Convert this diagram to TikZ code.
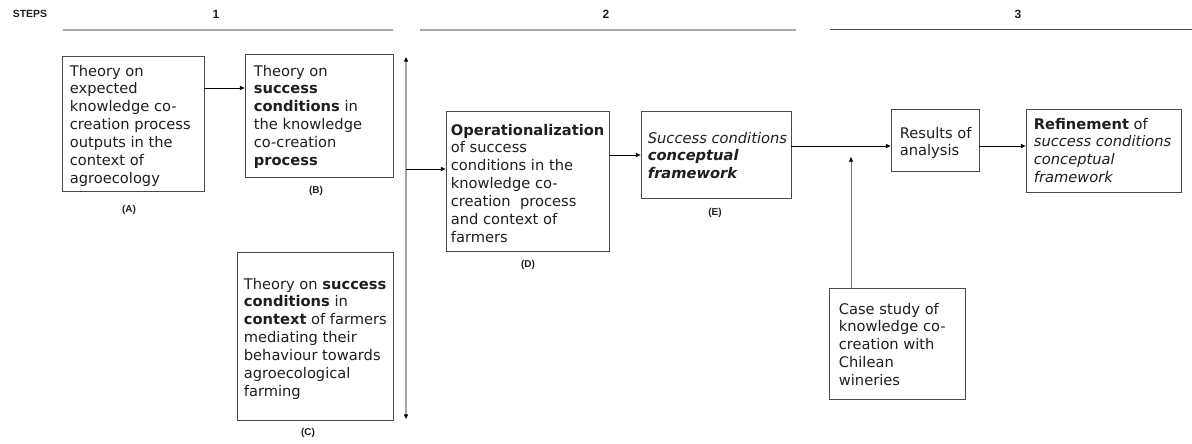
\documentclass[tikz,border=0pt]{standalone}
\usepackage{fontspec}
\setmainfont{DejaVu Sans}
\newfontfamily\labelfont{Liberation Sans}
\usetikzlibrary{arrows.meta,fit,calc}
\definecolor{ink}{HTML}{1E1E1E}
\definecolor{rule}{HTML}{A6A6A6}
\definecolor{ruledark}{HTML}{505050}
\definecolor{frame}{HTML}{4A4A4A}
\begin{document}
\begin{tikzpicture}[x=0.75pt,y=-0.75pt,
  box/.style={draw=frame, line width=0.6pt, inner sep=0pt},
  txt/.style={anchor=north west, inner sep=0pt, align=left, text=ink,
    font=\fontsize{11}{13.4}\selectfont},
  tag/.style={inner sep=0pt, text=ink, font=\labelfont\bfseries\fontsize{7.5}{9}\selectfont},
  head/.style={inner sep=0pt, text=ink, font=\labelfont\bfseries\fontsize{9}{10}\selectfont},
  arr/.style={draw=black, line width=0.6pt, -{Triangle[length=3.5pt,width=3pt]}},
  grayarr/.style={draw=rule, line width=1.2pt,
    {Triangle[length=3.5pt,width=3pt,color=black]}-{Triangle[length=3.5pt,width=3pt,color=black]}}]
\useasboundingbox (0,0) rectangle (1192,443);

% step headers
\node[head, font=\labelfont\bfseries\fontsize{7.8}{9}\selectfont] (steps) at (30,14) {STEPS};
\node[head] (s1) at (216,14) {1};
\node[head] (s2) at (606,14) {2};
\node[head] (s3) at (1018,14) {3};
\draw[rule, line width=1.5pt] (63,29.5) -- (393,29.5);
\draw[rule, line width=1.5pt] (420,29.5) -- (796,29.5);
\draw[ruledark, line width=0.9pt] (830,29.5) -- (1192,29.5);

% boxes
\node[box, fit={(62,56) (204,191)}] (A) {};
\node[box, fit={(245,54) (393,177)}] (B) {};
\node[box, fit={(237,252) (393,420)}] (C) {};
\node[box, fit={(446,111) (609,251)}] (D) {};
\node[box, fit={(641,111) (791,198)}] (E) {};
\node[box, fit={(891,109) (979,171)}] (R) {};
\node[box, fit={(1026,109) (1181,192)}] (F) {};
\node[box, fit={(829,288) (965,399)}] (K) {};

% box texts
\node[txt] (tA) at ($(A.north west)+(8,9)$) {Theory on\\expected\\knowledge co-\\creation process\\outputs in the\\context of\\agroecology};
\node[txt] (tB) at ($(B.north west)+(9,11)$) {Theory on\\\textbf{success}\\\textbf{conditions} in\\the knowledge\\co-creation\\\textbf{process}};
\node[txt] (tC) at ($(C.north west)+(7,26)$) {Theory on \textbf{success}\\\textbf{conditions} in\\\textbf{context} of farmers\\mediating their\\behaviour towards\\agroecological\\farming};
\node[txt] (tD) at ($(D.north west)+(5,13)$) {\textbf{Operationalization}\\of success\\conditions in the\\knowledge co-\\creation\ \ process\\and context of\\farmers};
\node[txt] (tE) at ($(E.north west)+(7,21)$) {\textit{Success conditions}\\\textbf{\textit{conceptual}}\\\textbf{\textit{framework}}};
\node[txt] (tR) at ($(R.north west)+(9,18)$) {Results of\\analysis};
\node[txt] (tF) at ($(F.north west)+(8,9)$) {\textbf{Refinement} of\\\textit{success conditions}\\\textit{conceptual}\\\textit{framework}};
\node[txt] (tK) at ($(K.north west)+(10,15)$) {Case study of\\knowledge co-\\creation with\\Chilean\\wineries};

% box tags
\node[tag] (lA) at (129,210) {(A)};
\node[tag] (lB) at (316,191) {(B)};
\node[tag] (lC) at (308,433) {(C)};
\node[tag] (lD) at (528,265) {(D)};
\node[tag] (lE) at (715,213) {(E)};

% connectors
\coordinate (vtop) at (406,57);
\coordinate (vbot) at (406,419);
\coordinate (split) at (406,169);
\coordinate (ab) at (0,88);
\coordinate (de) at (0,155);
\coordinate (row3) at (0,146);
\coordinate (join) at (851,157);

\draw[grayarr] (vtop) -- (vbot);
\draw[arr] (A.east |- ab) -- (B.west |- ab);
\draw[arr] (split) -- (split -| D.west);
\draw[arr] (D.east |- de) -- (E.west |- de);
\draw[arr] (E.east |- row3) -- (R.west |- row3);
\draw[arr] (R.east |- row3) -- (F.west |- row3);
\draw[draw=black!55, line width=0.6pt, -{Triangle[length=3.5pt,width=3pt,color=black]}] (K.north -| join) -- (join);
\end{tikzpicture}
\end{document}
